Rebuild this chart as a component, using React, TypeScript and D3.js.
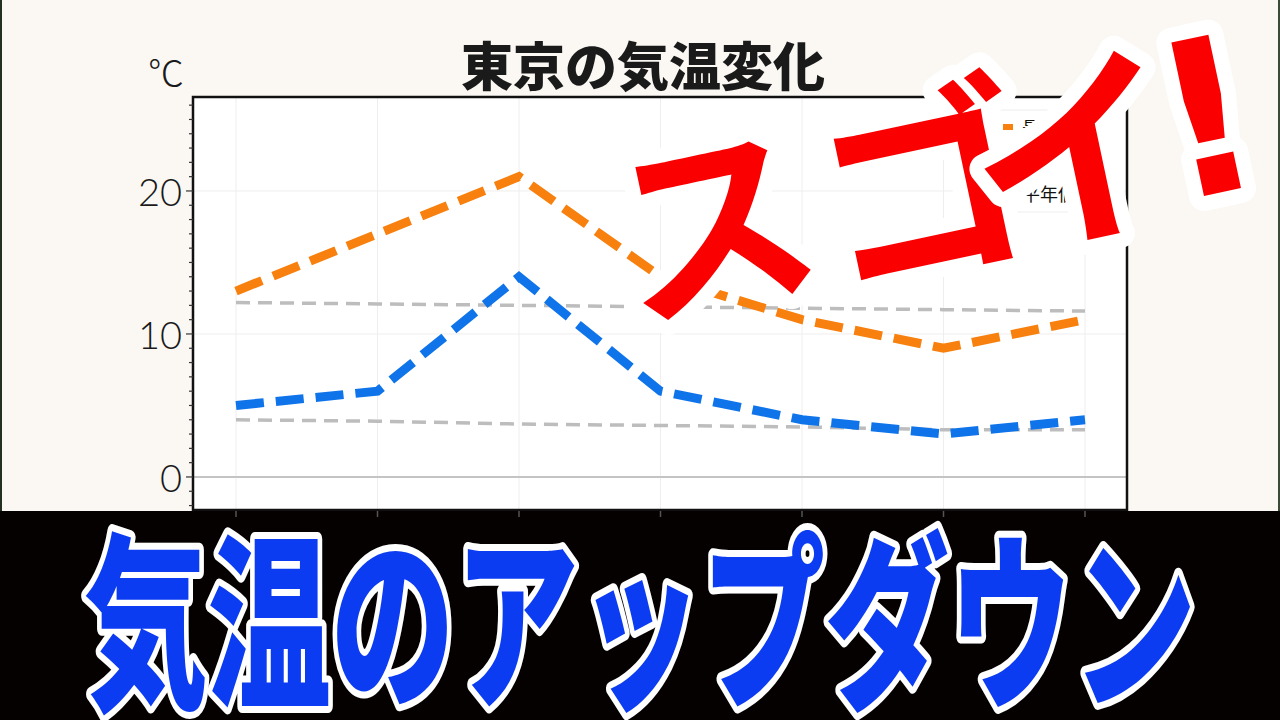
import React from 'react';
import * as d3 from 'd3';

// ---- data ----
const categories = ['1日', '2日', '3日', '4日', '5日', '6日', '7日'];
const highTemps = [13, 17, 21, 14, 11, 9, 11];
const lowTemps = [5, 6, 14, 6, 4, 3, 4];
const normalHigh = [12.2, 12.1, 12.0, 11.9, 11.8, 11.7, 11.6];
const normalLow = [4.0, 3.9, 3.7, 3.6, 3.5, 3.3, 3.3];
const yMajorTicks = [0, 10, 20];
const legendLabels = ['最高気温', '最低気温', '平年値'];
const titleText = '東京の気温変化';
const unitText = '℃';
const bannerText = '気温のアップダウン';
const shoutChars = ['ス', 'ゴ', 'イ', '!'];

const W = 1280;
const H = 720;
const plot = { left: 193, right: 1127, top: 97, bottom: 510 };

const JP = '"Noto Sans CJK JP", "Noto Sans", sans-serif';

export default function App() {
  const x = d3.scalePoint<string>().domain(categories).range([236, 1085]);
  const y = d3.scaleLinear().domain([-2.31, 26.57]).range([plot.bottom, plot.top]);
  const minorTicks = d3.range(-2, 27, 1);

  const line = d3
    .line<number>()
    .x((_, i) => x(categories[i]) as number)
    .y((d) => y(d));

  const series = [
    { values: normalHigh, color: '#bdbdbd', width: 3.5, dash: '14 8' },
    { values: normalLow, color: '#bdbdbd', width: 3.5, dash: '14 8' },
    { values: highTemps, color: '#f7800e', width: 9, dash: '28 12' },
    { values: lowTemps, color: '#0f74ea', width: 9, dash: '28 12' },
  ];

  const legendColors = ['#f7800e', '#0f74ea', '#bdbdbd'];
  const shoutX = [-240, -28, 128, 264];
  const shoutY = [-18, -14, -14, -6];
  const shoutSize = [202, 210, 210, 215];

  return (
    <svg
      width={W}
      height={H}
      viewBox={`0 0 ${W} ${H}`}
      style={{ position: 'fixed', left: 0, top: 0, display: 'block' }}
    >
      <rect x={0} y={0} width={W} height={H} fill="#fbf8f4" />
      <rect x={0} y={0} width={2} height={H} fill="#22301f" />
      <rect x={W - 2} y={0} width={2} height={H} fill="#3a4a36" />

      {/* plot background */}
      <rect x={plot.left} y={plot.top} width={plot.right - plot.left} height={plot.bottom - plot.top} fill="#ffffff" />

      {/* grid */}
      {categories.map((c) => (
        <line key={c} x1={x(c)} x2={x(c)} y1={plot.top} y2={plot.bottom} stroke="#eeeeee" strokeWidth={1} />
      ))}
      {yMajorTicks.slice(1).map((t) => (
        <line key={t} x1={plot.left} x2={plot.right} y1={y(t)} y2={y(t)} stroke="#eeeeee" strokeWidth={1} />
      ))}
      <line x1={plot.left} x2={plot.right} y1={y(0)} y2={y(0)} stroke="#c4c4c4" strokeWidth={2} />

      {/* series */}
      {series.map((s, i) => (
        <path
          key={i}
          d={line(s.values) as string}
          fill="none"
          stroke={s.color}
          strokeWidth={s.width}
          strokeDasharray={s.dash}
          strokeLinejoin="miter"
        />
      ))}

      {/* legend */}
      <g>
        <rect x={982} y={110} width={104} height={102} fill="#ffffff" stroke="#eeeeee" strokeWidth={1} />
        {legendLabels.map((lab, i) => {
          const ly = 127 + i * 33;
          return (
            <g key={lab}>
              <line
                x1={988}
                x2={1016}
                y1={ly}
                y2={ly}
                stroke={legendColors[i]}
                strokeWidth={i < 2 ? 6 : 3}
                strokeDasharray={i < 2 ? '10 5' : '6 4'}
              />
              <text x={1022} y={ly} dominantBaseline="central" fontSize={18} fontFamily={JP} fill="#111">
                {lab}
              </text>
            </g>
          );
        })}
      </g>

      {/* axes frame */}
      <rect
        x={plot.left}
        y={plot.top}
        width={plot.right - plot.left}
        height={plot.bottom - plot.top}
        fill="none"
        stroke="#111"
        strokeWidth={2.5}
      />

      {/* y ticks */}
      {minorTicks.map((t) => (
        <line
          key={t}
          x1={yMajorTicks.includes(t) ? plot.left - 7 : plot.left - 4}
          x2={plot.left}
          y1={y(t)}
          y2={y(t)}
          stroke="#333"
          strokeWidth={1.2}
        />
      ))}
      {yMajorTicks.map((t) => (
        <text
          key={t}
          x={182}
          y={y(t)}
          textAnchor="end"
          dominantBaseline="central"
          fontSize={38}
          fontWeight={300}
          fontFamily='Lato, "Open Sans", sans-serif'
          fill="#1a1a1a"
        >
          {t}
        </text>
      ))}
      <text x={184} y={71} textAnchor="end" dominantBaseline="central" fontSize={36} fontFamily={JP} fontWeight={300} fill="#1a1a1a">
        {unitText}
      </text>

      {/* title */}
      <text
        x={643}
        y={63}
        textAnchor="middle"
        dominantBaseline="central"
        fontSize={52}
        fontWeight={800}
        fontFamily={JP}
        fill="#1a1a1a"
      >
        {titleText}
      </text>

      {/* bottom band */}
      <rect x={0} y={511} width={W} height={H - 511} fill="#060101" />
      {categories.map((c) => (
        <line key={c} x1={x(c)} x2={x(c)} y1={511} y2={517} stroke="#555" strokeWidth={1.5} />
      ))}
      <text
        x={84}
        y={611}
        dominantBaseline="central"
        fontSize={188}
        fontWeight={900}
        fontFamily={JP}
        textLength={1112}
        lengthAdjust="spacingAndGlyphs"
        fill="#0c3cf2"
        stroke="#ffffff"
        strokeWidth={14}
        strokeLinejoin="round"
        paintOrder="stroke"
      >
        {bannerText}
      </text>

      {/* shout overlay */}
      <g transform="translate(950,180) rotate(-12)">
        {shoutChars.map((ch, i) => (
          <text
            key={i}
            x={shoutX[i]}
            y={shoutY[i]}
            textAnchor="middle"
            dominantBaseline="central"
            fontSize={shoutSize[i]}
            fontWeight={700}
            fontFamily={ch === '!' ? '"DejaVu Sans", "Liberation Sans", sans-serif' : JP}
            fill="#fa0000"
            stroke="#ffffff"
            strokeWidth={30}
            strokeLinejoin="round"
            paintOrder="stroke"
          >
            {ch}
          </text>
        ))}
      </g>
    </svg>
  );
}
